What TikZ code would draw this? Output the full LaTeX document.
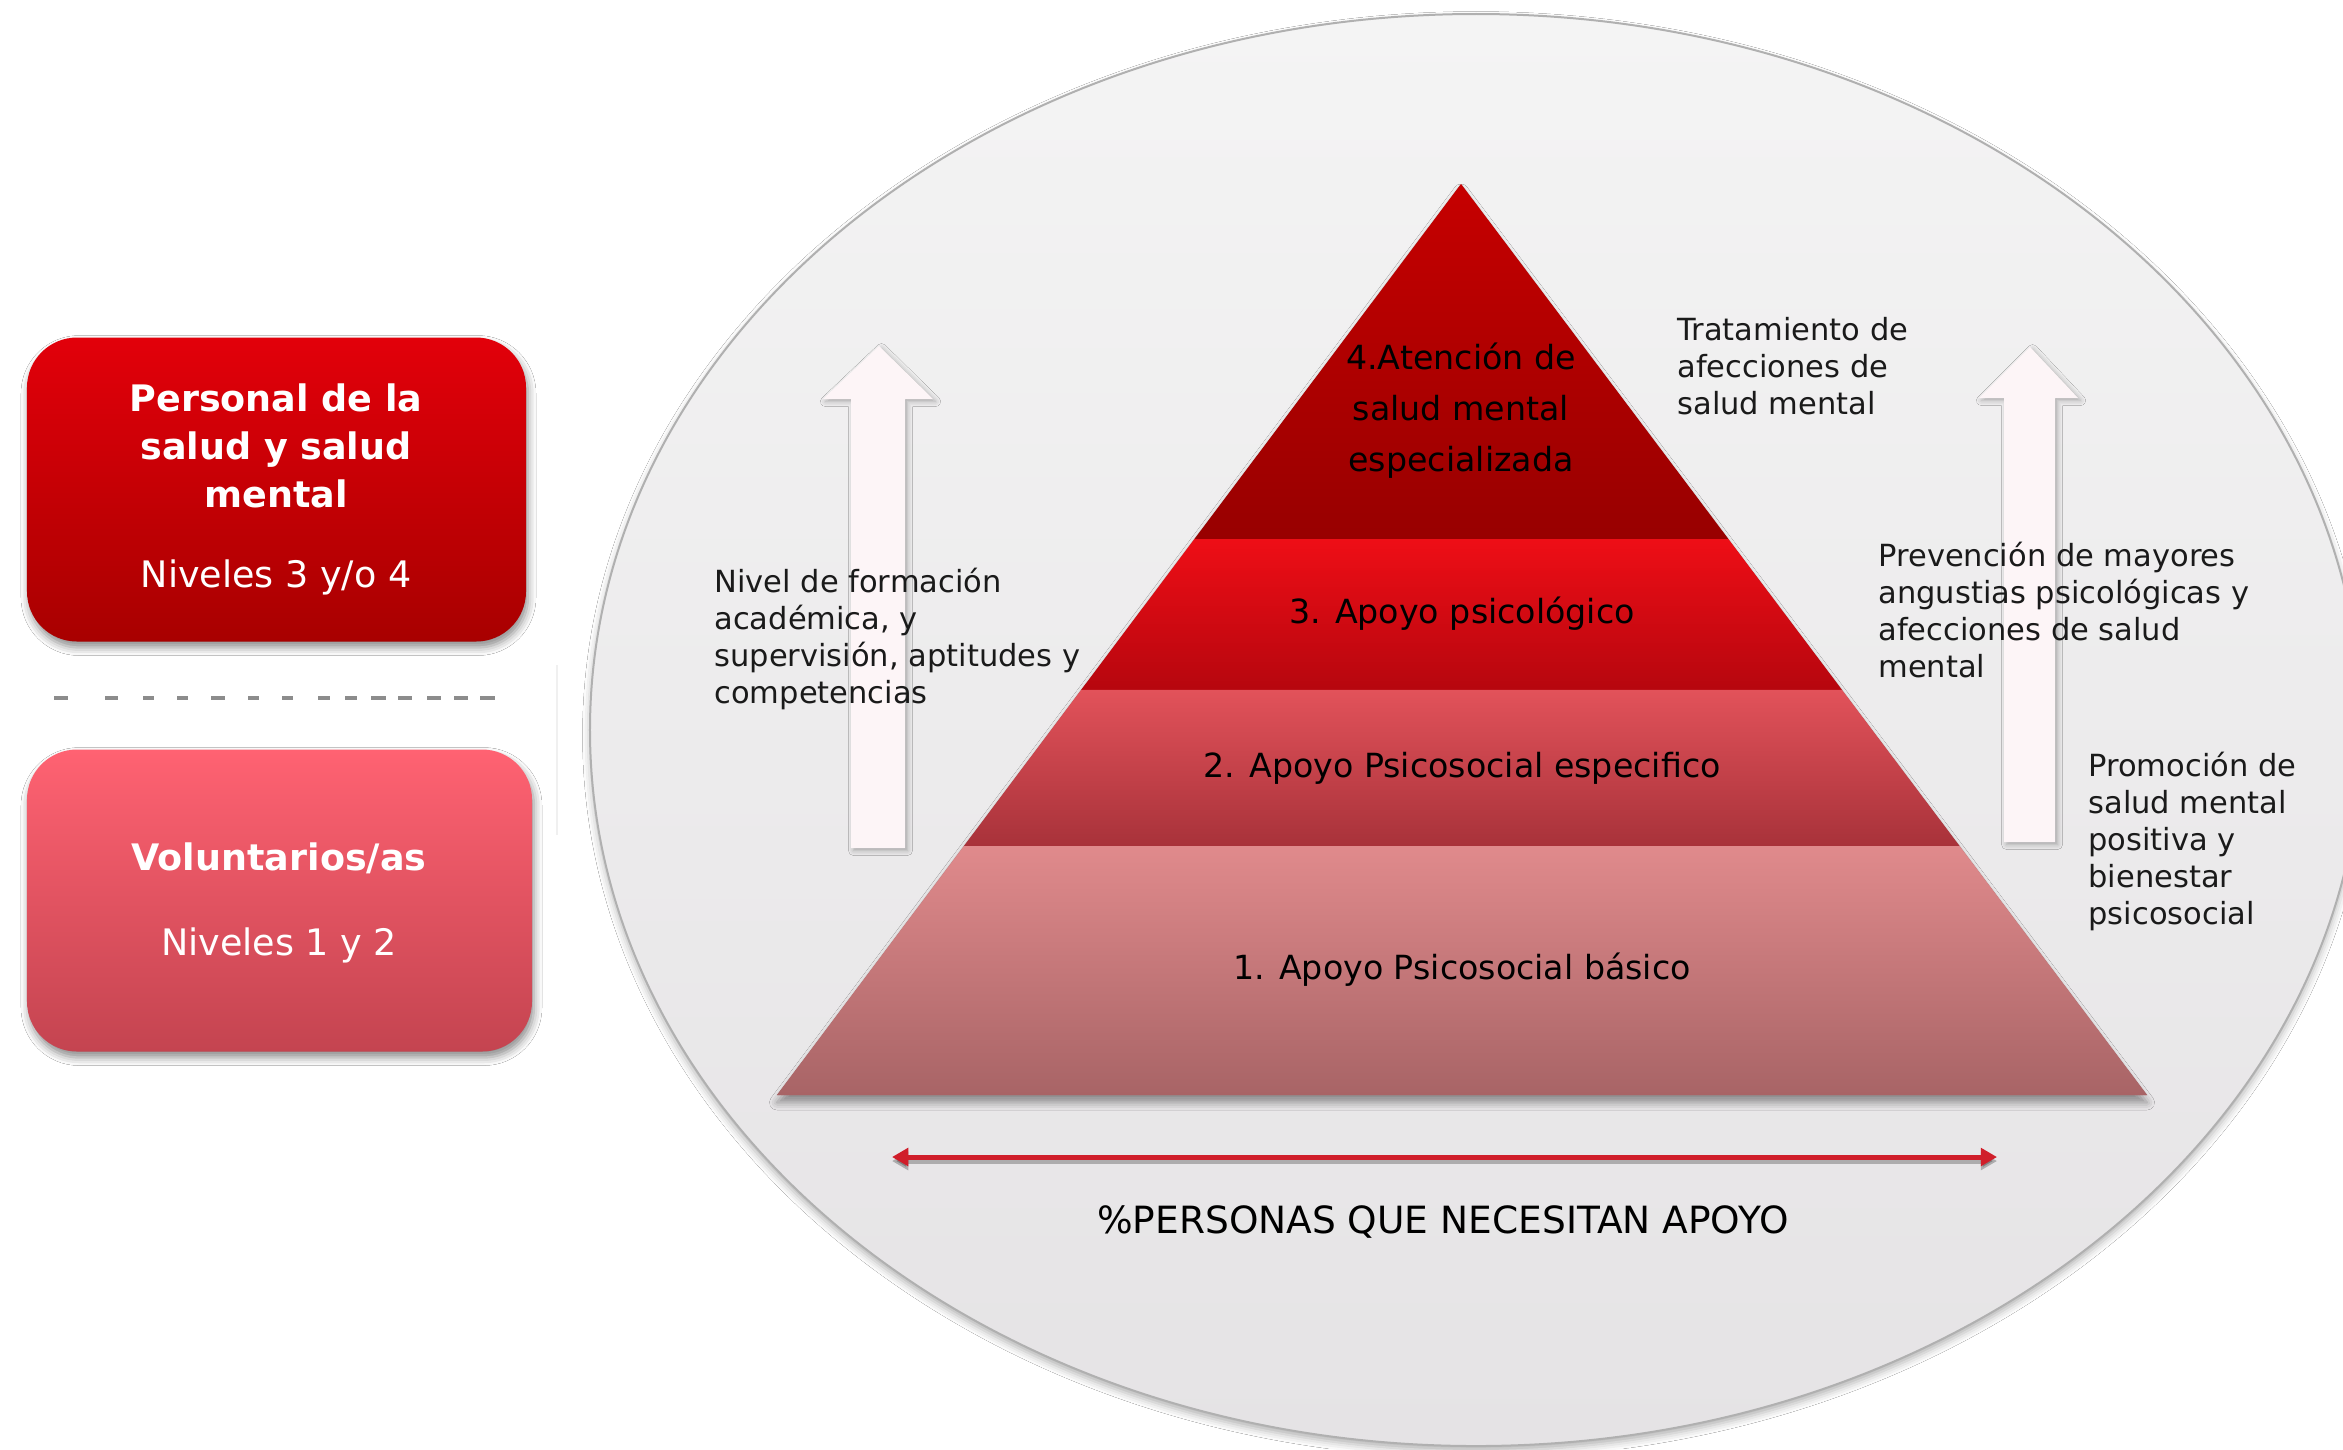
\documentclass[tikz,border=0pt]{standalone}
\usepackage{fontspec}
\setmainfont{DejaVu Sans}
\usetikzlibrary{calc,shadows.blur,arrows.meta}
\definecolor{ellTop}{HTML}{F4F4F4}
\definecolor{ellBot}{HTML}{E5E3E5}
\definecolor{ellLine}{HTML}{B0B0B0}
\definecolor{lvFourTop}{HTML}{C60000}
\definecolor{lvFourBot}{HTML}{980000}
\definecolor{lvThreeTop}{HTML}{EE0E16}
\definecolor{lvThreeBot}{HTML}{B6060E}
\definecolor{lvTwoTop}{HTML}{E2525A}
\definecolor{lvTwoBot}{HTML}{A8323A}
\definecolor{lvOneTop}{HTML}{E08A8C}
\definecolor{lvOneBot}{HTML}{A86466}
\definecolor{boxOneTop}{HTML}{E2000A}
\definecolor{boxOneBot}{HTML}{A80000}
\definecolor{boxTwoTop}{HTML}{FF6272}
\definecolor{boxTwoBot}{HTML}{C44450}
\definecolor{arrowFill}{HTML}{FDF5F7}
\definecolor{redLine}{HTML}{D01E2A}
\definecolor{dashGray}{HTML}{8C8C8C}
\definecolor{txtDark}{HTML}{1A1A1A}
\begin{document}
\begin{tikzpicture}[x=0.4pt,y=-0.4pt,
  sidelbl/.style={font=\fontsize{12.2pt}{14.8pt}\selectfont, align=left, inner sep=0pt, text=txtDark, anchor=west},
  pyrlbl/.style={font=\fontsize{13.3pt}{20.4pt}\selectfont, align=center, inner sep=0pt, text=black},
  boxshape/.style={rounded corners=20pt, inner sep=0pt,
     blur shadow={shadow xshift=0.8pt, shadow yshift=-2.4pt, shadow blur radius=3.2pt, shadow opacity=45}},
  boxone/.style={boxshape, top color=boxOneTop, bottom color=boxOneBot, minimum width=199.6pt, minimum height=121.6pt},
  boxtwo/.style={boxshape, top color=boxTwoTop, bottom color=boxTwoBot, minimum width=202pt, minimum height=120.8pt},
  boxtxt/.style={font=\fontsize{14.6pt}{19.2pt}\selectfont, align=center, inner sep=0pt, text=white},
  boxbold/.style={boxtxt, font=\fontsize{14.6pt}{19.2pt}\selectfont\bfseries},
  whitearrow/.style={fill=arrowFill,
     blur shadow={shadow xshift=1pt, shadow yshift=-1pt, shadow blur radius=2pt, shadow opacity=30}},
  redtips/.style={{Triangle[width=7pt,length=6.5pt]}-{Triangle[width=7pt,length=6.5pt]}}
]
\useasboundingbox (0,0) rectangle (2343,1449);
\fill[white] (0,0) rectangle (2343,1449);

% big ellipse background
\path[blur shadow={shadow xshift=0pt, shadow yshift=-2pt, shadow blur radius=3pt, shadow opacity=30},
      top color=ellTop, bottom color=ellBot, draw=ellLine, line width=0.8pt]
  (1476,730) ellipse [x radius=354.4pt, y radius=286.4pt];

% left boxes
\node[boxone] (personal) at (276.5,489.5) {};
\node[boxbold] (personalT) at (276,446) {Personal de la\\salud y salud\\mental};
\node[boxtxt] (nivTres) at (276,577) {Niveles 3 y/o 4};

\draw[dashGray, line width=1.4pt,
  dash pattern=on 5.6pt off 14.8pt on 5.2pt off 10pt on 4.4pt off 9.2pt on 4.4pt off 9.2pt on 5.6pt off 9.2pt on 4.4pt off 9.2pt on 4.4pt off 10pt on 4.8pt off 6pt on 4.8pt off 5.6pt on 6pt off 4.8pt on 5.6pt off 6pt on 5.6pt off 5.2pt on 5.6pt off 4.8pt on 6pt off 40pt]
  (54,698) -- (496,698);
\draw[gray!12, line width=0.8pt] (557,665) -- (557,835);

\node[boxtwo] (volunt) at (279.5,900.5) {};
\node[boxbold] (voluntT) at (279,858) {Voluntarios/as};
\node[boxtxt] (nivUno) at (279,945) {Niveles 1 y 2};

% pyramid
\coordinate (A) at (1461,184);
\coordinate (BL) at (777,1095);
\coordinate (BR) at (2147,1095);
\coordinate (l3) at ($(A)!0.3897!(BL)$);
\coordinate (r3) at ($(A)!0.3897!(BR)$);
\coordinate (l2) at ($(A)!0.5554!(BL)$);
\coordinate (r2) at ($(A)!0.5554!(BR)$);
\coordinate (l1) at ($(A)!0.7267!(BL)$);
\coordinate (r1) at ($(A)!0.7267!(BR)$);
\path[fill=lvOneBot, blur shadow={shadow xshift=0pt, shadow yshift=-3pt, shadow blur radius=3pt, shadow opacity=40}]
  (A) -- (BR) -- (BL) -- cycle;
\shade[top color=lvFourTop, bottom color=lvFourBot] (A) -- (r3) -- (l3) -- cycle;
\shade[top color=lvThreeTop, bottom color=lvThreeBot] (l3) -- (r3) -- (r2) -- (l2) -- cycle;
\shade[top color=lvTwoTop, bottom color=lvTwoBot] (l2) -- (r2) -- (r1) -- (l1) -- cycle;
\shade[top color=lvOneTop, bottom color=lvOneBot] (l1) -- (r1) -- (BR) -- (BL) -- cycle;

\node[pyrlbl] (lvFour) at (1461,411) {4.Atención de\\salud mental\\especializada};
\node[pyrlbl] (lvThree) at (1462,614) {3. Apoyo psicológico};
\node[pyrlbl] (lvTwo) at (1462,768) {2. Apoyo Psicosocial especifico};
\node[pyrlbl] (lvOne) at (1462,970) {1. Apoyo Psicosocial básico};

% white up arrows
\path[whitearrow] (879,346) -- (933,399) -- (905,399) -- (905,848) -- (851,848) -- (851,399) -- (823,399) -- cycle;
\path[whitearrow] (2030,347) -- (2078,398) -- (2055,398) -- (2055,842) -- (2004,842) -- (2004,398) -- (1979,398) -- cycle;

% side labels
\node[sidelbl] (nivel) at (714,639) {Nivel de formación\\académica, y\\supervisión, aptitudes y\\competencias};
\node[sidelbl] (trat) at (1677,366) {Tratamiento de\\afecciones de\\salud mental};
\node[sidelbl] (prev) at (1878,610) {Prevención de mayores\\angustias psicológicas y\\afecciones de salud\\mental};
\node[sidelbl] (prom) at (2088,841) {Promoción de\\salud mental\\positiva y\\bienestar\\psicosocial};

% red double arrow
\coordinate (pl) at (892,1157);
\coordinate (pr) at (1997,1157);
\draw[black, opacity=0.25, line width=2pt, redtips] ([yshift=-1.6pt]pl) -- ([yshift=-1.6pt]pr);
\draw[redLine, line width=2pt, redtips] (pl) -- (pr);

\node[font=\fontsize{15pt}{18pt}\selectfont, inner sep=0pt, text=black] (pct) at (1443,1222) {\%PERSONAS QUE NECESITAN APOYO};
\end{tikzpicture}
\end{document}
